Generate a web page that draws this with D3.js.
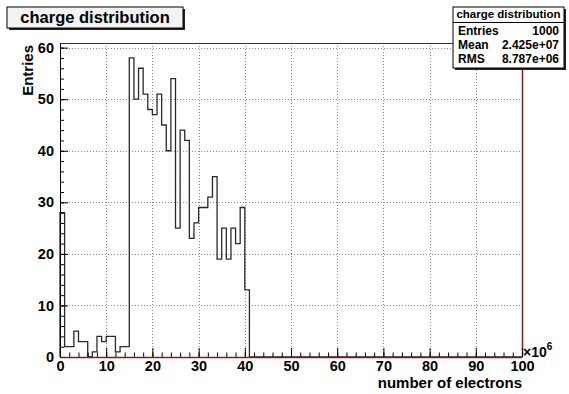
<!DOCTYPE html>
<html>
<head>
<meta charset="utf-8">
<script src="https://cdn.jsdelivr.net/npm/d3@7"></script>
<style>
  html, body { margin: 0; padding: 0; background: #ffffff; }
  svg { display: block; }
  text { font-family: "Liberation Sans", Arial, Helvetica, sans-serif; font-weight: bold; fill: #000; }
</style>
</head>
<body>
<script>
// Histogram "charge distribution": counts per 1e6-electron bin, range 0..100 (x1e6)
const histTitle = "charge distribution";
const xTitle = "number of electrons";
const yTitle = "Entries";
const binWidth = 1;
const xMin = 0, xMax = 100;
const counts = [28, 2, 2, 5, 3, 3, 0, 1, 4, 3,
                4, 4, 1, 2, 2, 58, 50, 56, 51, 48,
                47, 51, 45, 40, 54, 25, 44, 42, 23, 26,
                29, 29, 31, 35, 19, 25, 19, 25, 22, 29,
                13];
const yMaxDisplay = 60.9;
const xTickLabels = [0, 10, 20, 30, 40, 50, 60, 70, 80, 90, 100];
const xMinorTicks = d3.range(0, 101, 2);
const yTickLabels = [0, 10, 20, 30, 40, 50, 60];
const yMinorTicks = d3.range(0, 61, 2);
const xExponent = "6";
const statsNames = ["Entries", "Mean", "RMS"];
const statsValues = ["1000", "2.425e+07", "8.787e+06"];

const W = 569, H = 394;
const frame = { left: 60, right: 522, top: 43, bottom: 357 };

const svg = d3.select("body").append("svg").attr("width", W).attr("height", H);

const x = d3.scaleLinear().domain([xMin, xMax]).range([frame.left, frame.right]);
const y = d3.scaleLinear().domain([0, yMaxDisplay]).range([frame.bottom, frame.top]);

// dotted grid on major divisions
const grid = svg.append("g").attr("stroke", "#8c8c8c").attr("stroke-width", 1).attr("stroke-dasharray", "1,2");
grid.selectAll("line.gx").data(xTickLabels.filter(v => v > xMin && v < xMax)).join("line")
  .attr("x1", d => Math.round(x(d)) + 0.5).attr("x2", d => Math.round(x(d)) + 0.5)
  .attr("y1", frame.top).attr("y2", frame.bottom);
grid.selectAll("line.gy").data(yTickLabels.filter(v => v > 0)).join("line")
  .attr("x1", frame.left).attr("x2", frame.right)
  .attr("y1", d => Math.round(y(d)) + 0.5).attr("y2", d => Math.round(y(d)) + 0.5);

// histogram outline (step)
const pts = [[xMin, 0]];
counts.forEach((c, i) => {
  pts.push([xMin + i * binWidth, c]);
  pts.push([xMin + (i + 1) * binWidth, c]);
});
pts.push([xMin + counts.length * binWidth, 0]);
pts.push([xMax, 0]);
svg.append("path")
  .attr("d", d3.line().x(d => x(d[0])).y(d => y(d[1]))(pts))
  .attr("fill", "none").attr("stroke", "#2a2a2a").attr("stroke-width", 1.3);

// frame edges
svg.append("line").attr("x1", frame.left).attr("x2", frame.right)
  .attr("y1", frame.top + 0.5).attr("y2", frame.top + 0.5).attr("stroke", "#333");
svg.append("line").attr("x1", frame.right + 0.5).attr("x2", frame.right + 0.5)
  .attr("y1", frame.top).attr("y2", frame.bottom).attr("stroke", "#8b1a1a").attr("stroke-width", 1.5);

// y axis: major + minor ticks pointing into the frame
const yAxis = svg.append("g").attr("transform", `translate(${frame.left},0)`)
  .call(d3.axisLeft(y).tickValues(yTickLabels).tickSizeInner(-8).tickSizeOuter(0).tickPadding(6).tickFormat(d3.format("d")));
yAxis.select(".domain").attr("stroke", "#000");
yAxis.selectAll("text").attr("font-size", 14.5).attr("font-family", null);
const yMinor = svg.append("g").attr("transform", `translate(${frame.left},0)`)
  .call(d3.axisLeft(y).tickValues(yMinorTicks).tickSizeInner(-4).tickSizeOuter(0).tickFormat(""));
yMinor.select(".domain").remove();

// x axis
const xAxis = svg.append("g").attr("transform", `translate(0,${frame.bottom})`)
  .call(d3.axisBottom(x).tickValues(xTickLabels).tickSizeInner(-9).tickSizeOuter(0).tickPadding(4).tickFormat(d3.format("d")));
xAxis.selectAll("text").attr("font-size", 14.5).attr("font-family", null);
const xMinor = svg.append("g").attr("transform", `translate(0,${frame.bottom})`)
  .call(d3.axisBottom(x).tickValues(xMinorTicks).tickSizeInner(-4.5).tickSizeOuter(0).tickFormat(""));
xMinor.select(".domain").remove();
xAxis.select(".domain").attr("stroke", "#8b1a1a").attr("stroke-width", 1.5);
xAxis.raise();
xAxis.select(".domain").raise();

// exponent label
const expo = svg.append("text").attr("x", frame.right + 1).attr("y", frame.bottom).attr("font-size", 14).attr("font-weight", "normal");
expo.append("tspan").text("\u00d710");
expo.append("tspan").attr("dy", -7).attr("font-size", 10).text(xExponent);

// axis titles
svg.append("text").attr("x", frame.right).attr("y", 388).attr("text-anchor", "end")
  .attr("font-size", 15).text(xTitle);
svg.append("text").attr("transform", `translate(33,${frame.top + 2}) rotate(-90)`).attr("text-anchor", "end")
  .attr("font-size", 15).text(yTitle);

// title box
const tb = { x: 7, y: 7, w: 176, h: 21 };
svg.append("rect").attr("x", tb.x + 2).attr("y", tb.y + 2).attr("width", tb.w).attr("height", tb.h).attr("fill", "#222");
svg.append("rect").attr("x", tb.x).attr("y", tb.y).attr("width", tb.w).attr("height", tb.h)
  .attr("fill", "#f3f3f3").attr("stroke", "#000").attr("stroke-width", 1);
svg.append("text").attr("x", tb.x + tb.w / 2).attr("y", 23).attr("text-anchor", "middle")
  .attr("font-size", 16.5).text(histTitle);

// statistics box
const sb = { x: 453, y: 7, w: 111, h: 61 };
svg.append("rect").attr("x", sb.x + 2).attr("y", sb.y + 2).attr("width", sb.w).attr("height", sb.h).attr("fill", "#222");
svg.append("rect").attr("x", sb.x).attr("y", sb.y).attr("width", sb.w).attr("height", sb.h)
  .attr("fill", "#fff").attr("stroke", "#000").attr("stroke-width", 1);
svg.append("line").attr("x1", sb.x).attr("x2", sb.x + sb.w).attr("y1", 22.5).attr("y2", 22.5).attr("stroke", "#000");
svg.append("text").attr("x", sb.x + sb.w / 2).attr("y", 18).attr("text-anchor", "middle")
  .attr("font-size", 11.5).text(histTitle);
const rowY = [35, 49, 63];
statsNames.forEach((n, i) => {
  svg.append("text").attr("x", sb.x + 5).attr("y", rowY[i]).attr("font-size", 12).text(n);
  svg.append("text").attr("x", sb.x + sb.w - 5).attr("y", rowY[i]).attr("text-anchor", "end").attr("font-size", 12).text(statsValues[i]);
});
</script>
</body>
</html>
